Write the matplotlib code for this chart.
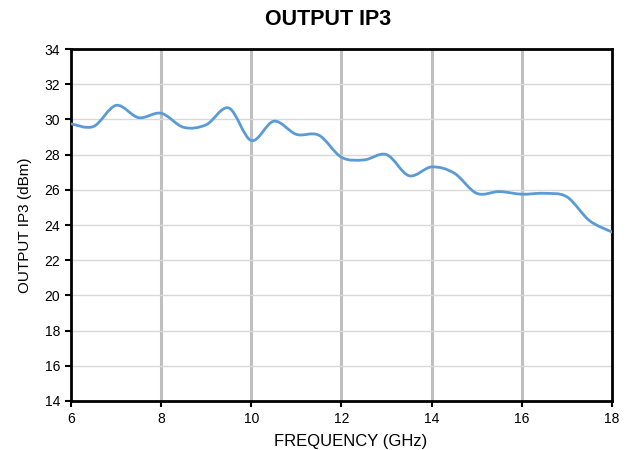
import matplotlib.pyplot as plt
from matplotlib.path import Path
from matplotlib.patches import PathPatch
import numpy as np

plt.rcParams['font.family'] = ['Liberation Sans', 'DejaVu Sans']

# output IP3, every 0.5 GHz
freq = [6.0, 6.5, 7.0, 7.5, 8.0, 8.5, 9.0, 9.5, 10.0, 10.5, 11.0, 11.5,
        12.0, 12.5, 13.0, 13.5, 14.0, 14.5, 15.0, 15.5, 16.0, 16.5, 17.0, 17.5, 18.0]
oip3 = [29.75, 29.6, 30.8, 30.1, 30.35, 29.55, 29.7, 30.65, 28.8, 29.9, 29.15, 29.1,
        27.85, 27.7, 28.0, 26.8, 27.3, 26.95, 25.8, 25.9, 25.75, 25.8, 25.6, 24.25, 23.6]

xticks = [6, 8, 10, 12, 14, 16, 18]
yticks = [14, 16, 18, 20, 22, 24, 26, 28, 30, 32, 34]


def smooth_path(x, y):
    # Catmull-Rom style bezier through the points (like a spreadsheet "smoothed line")
    x = np.asarray(x, float)
    y = np.asarray(y, float)
    verts = [(x[0], y[0])]
    codes = [Path.MOVETO]
    n = len(x)
    for i in range(n - 1):
        i0 = max(i - 1, 0)
        i3 = min(i + 2, n - 1)
        c1 = (x[i] + (x[i + 1] - x[i0]) / 6, y[i] + (y[i + 1] - y[i0]) / 6)
        c2 = (x[i + 1] - (x[i3] - x[i]) / 6, y[i + 1] - (y[i3] - y[i]) / 6)
        verts += [c1, c2, (x[i + 1], y[i + 1])]
        codes += [Path.CURVE4] * 3
    return Path(verts, codes)


fig = plt.figure(figsize=(6.3, 4.5), dpi=100)
ax = fig.add_axes([0.1127, 0.109, 0.8587, 0.782])

ax.add_patch(PathPatch(smooth_path(freq, oip3), fill=False, edgecolor='#5B9BD5',
                       linewidth=2.0, capstyle='round', joinstyle='round', zorder=3))

ax.set_xlim(6, 18)
ax.set_ylim(14, 34)
ax.set_xticks(xticks)
ax.set_yticks(yticks)

for xv in xticks[1:-1]:
    ax.axvline(xv, color='#BFBFBF', linewidth=2.2, zorder=1)
for yv in yticks[1:-1]:
    ax.axhline(yv, color='#D9D9D9', linewidth=1.0, zorder=1)

for s in ax.spines.values():
    s.set_linewidth(2.0)
    s.set_color('black')
ax.tick_params(direction='out', length=4, width=1.5, labelsize=10, pad=4)

ax.set_title('OUTPUT IP3', fontsize=15.5, fontweight='bold', pad=17, x=0.476)
ax.set_xlabel('FREQUENCY (GHz)', fontsize=12, labelpad=6, x=0.516)
ax.set_ylabel('OUTPUT IP3 (dBm)', fontsize=11, labelpad=9)

fig.savefig('out.png', dpi=100)
